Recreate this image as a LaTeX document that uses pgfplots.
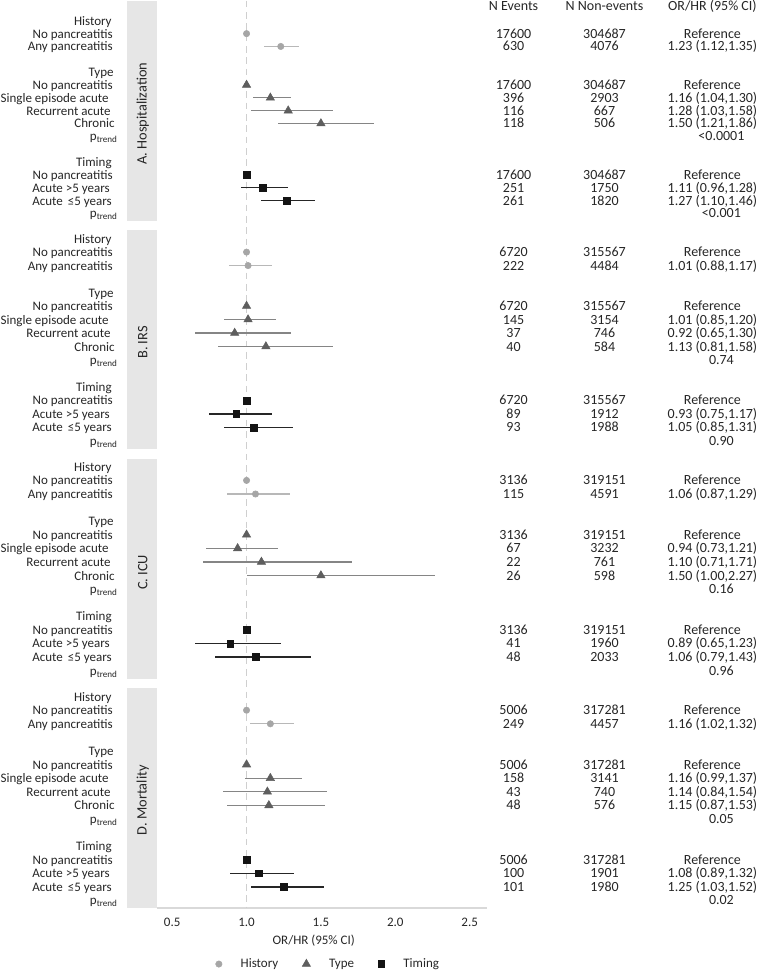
\documentclass[border=0pt]{standalone}
\usepackage{fontspec}
\setmainfont{Carlito}
\usepackage{pgfplots}
\pgfplotsset{compat=1.18}
\definecolor{txt}{HTML}{262626}
\definecolor{histc}{HTML}{A6A6A6}
\definecolor{histl}{HTML}{B8B8B8}
\definecolor{typec}{HTML}{5E5E5E}
\definecolor{typel}{HTML}{858585}
\definecolor{timec}{HTML}{141414}
\definecolor{timel}{HTML}{262626}
\definecolor{stripc}{HTML}{E6E6E6}
\definecolor{refl}{HTML}{CFCFCF}
\definecolor{axl}{HTML}{D9D9D9}
\newcommand\lab[3]{\node[anchor=base east,inner sep=0] at (#1,#2+4.5) {#3};}
\newcommand\plabels[2]{%
 \lab{112}{#1}{History}
 \lab{113}{#1+#2}{No pancreatitis}
 \lab{113}{#1+2*#2}{Any pancreatitis}
 \lab{114}{#1+4*#2}{Type}
 \lab{113}{#1+5*#2}{No pancreatitis}
 \lab{109}{#1+6*#2}{Single episode acute}
 \lab{111}{#1+7*#2}{Recurrent acute}
 \lab{115}{#1+8*#2}{Chronic}
 \lab{118}{#1+9*#2}{p\textsubscript{trend}}
 \lab{112}{#1+11*#2}{Timing}
 \lab{113}{#1+12*#2}{No pancreatitis}
 \lab{110}{#1+13*#2}{Acute >5 years}
 \lab{112}{#1+14*#2}{Acute \,≤5 years}
 \lab{118}{#1+15*#2}{p\textsubscript{trend}}
}
\newcommand\tr[4]{%
 \node[anchor=base,inner sep=0] at (514,#1+4.5) {#2};
 \node[anchor=base,inner sep=0] at (605,#1+4.5) {#3};
 \node[anchor=base,inner sep=0] at (713,#1+4.5) {#4};}
\newcommand\pv[2]{\node[anchor=base,inner sep=0] at (722,#1+4.5) {#2};}
\begin{document}
\begin{tikzpicture}[font=\fontsize{9.75pt}{11pt}\selectfont, text=txt]
\begin{scope}[x=0.75pt,y=-0.75pt]
\path[use as bounding box] (0,0) rectangle (761,980);
\fill[stripc] (127,0) rectangle (157,220);
\fill[stripc] (127,229) rectangle (157,449);
\fill[stripc] (127,459) rectangle (157,679);
\fill[stripc] (127,688) rectangle (157,908);
\begin{scope}[font=\fontsize{10.8pt}{12pt}\selectfont]
\node[rotate=90] at (143,113) {A. Hospitalization};
\node[rotate=90] at (143,342) {B. IRS};
\node[rotate=90] at (143,572) {C. ICU};
\node[rotate=90] at (143,800) {D. Mortality};
\end{scope}
\plabels{20}{12.85}
\plabels{238}{13.5}
\plabels{466.4}{13.6}
\plabels{696.4}{13.6}
\begin{scope}[font=\fontsize{10.5pt}{12pt}\selectfont]
\tr{5.5}{N Events}{N Non-events}{OR/HR (95\% CI)}
% A
\tr{32.85}{17600}{304687}{Reference}
\tr{45.7}{630}{4076}{1.23 (1.12,1.35)}
\tr{84.25}{17600}{304687}{Reference}
\tr{97.1}{396}{2903}{1.16 (1.04,1.30)}
\tr{109.95}{116}{667}{1.28 (1.03,1.58)}
\tr{122.8}{118}{506}{1.50 (1.21,1.86)}
\pv{135.65}{<0.0001}
\tr{174.2}{17600}{304687}{Reference}
\tr{187.05}{251}{1750}{1.11 (0.96,1.28)}
\tr{199.9}{261}{1820}{1.27 (1.10,1.46)}
\pv{212.75}{<0.001}
% B
\tr{251.5}{6720}{315567}{Reference}
\tr{265}{222}{4484}{1.01 (0.88,1.17)}
\tr{305.5}{6720}{315567}{Reference}
\tr{319}{145}{3154}{1.01 (0.85,1.20)}
\tr{332.5}{37}{746}{0.92 (0.65,1.30)}
\tr{346}{40}{584}{1.13 (0.81,1.58)}
\pv{359.5}{0.74}
\tr{400}{6720}{315567}{Reference}
\tr{413.5}{89}{1912}{0.93 (0.75,1.17)}
\tr{427}{93}{1988}{1.05 (0.85,1.31)}
\pv{440.5}{0.90}
% C
\tr{480}{3136}{319151}{Reference}
\tr{493.6}{115}{4591}{1.06 (0.87,1.29)}
\tr{534.4}{3136}{319151}{Reference}
\tr{548}{67}{3232}{0.94 (0.73,1.21)}
\tr{561.6}{22}{761}{1.10 (0.71,1.71)}
\tr{575.2}{26}{598}{1.50 (1.00,2.27)}
\pv{588.8}{0.16}
\tr{629.6}{3136}{319151}{Reference}
\tr{643.2}{41}{1960}{0.89 (0.65,1.23)}
\tr{656.8}{48}{2033}{1.06 (0.79,1.43)}
\pv{670.4}{0.96}
% D
\tr{710}{5006}{317281}{Reference}
\tr{723.6}{249}{4457}{1.16 (1.02,1.32)}
\tr{764.4}{5006}{317281}{Reference}
\tr{778}{158}{3141}{1.16 (0.99,1.37)}
\tr{791.6}{43}{740}{1.14 (0.84,1.54)}
\tr{805.2}{48}{576}{1.15 (0.87,1.53)}
\pv{818.8}{0.05}
\tr{859.6}{5006}{317281}{Reference}
\tr{873.2}{100}{1901}{1.08 (0.89,1.32)}
\tr{886.8}{101}{1980}{1.25 (1.03,1.52)}
\pv{900.4}{0.02}
\end{scope}
\node[anchor=base,inner sep=0] at (314,944.5) {OR/HR (95\% CI)};
\end{scope}
\begin{axis}[at={(117.75pt,-681pt)}, anchor=south west, scale only axis,
  width=247.5pt, height=681pt, xmin=0.397, xmax=2.614, ymin=-908, ymax=0,
  clip=false, axis x line*=bottom, axis y line=none,
  x axis line style={draw=axl, line width=1.5pt},
  xtick={0.5,1,1.5,2,2.5}, major tick length=0pt,
  xticklabel={\pgfmathprintnumber[fixed,fixed zerofill,precision=1,assume math mode=true]{\tick}},
  xticklabel style={font=\fontsize{9.75pt}{11pt}\selectfont, text=txt, yshift=-4pt},
  legend style={at={(0.521,-0.0617)}, anchor=center, draw=none, fill=none,
    legend columns=3, font=\fontsize{9.75pt}{11pt}\selectfont, text=txt,
    /tikz/every odd column/.append style={column sep=12pt},
    /tikz/every even column/.append style={column sep=16pt}},
  legend image code/.code={\draw[#1] plot coordinates {(0pt,0pt)};},
  error bars/error mark=none]
\addplot[refl, line width=1.2pt, dash pattern=on 5pt off 3.5pt, forget plot] coordinates {(1,0) (1,-908)};
\addplot[only marks, mark=*, mark size=2.4pt, color=histc,
  error bars/.cd, x dir=both, x explicit, error bar style={histl, line width=1pt}]
 coordinates {
 (1.00,-32.85) += (0,0) -= (0,0)
 (1.23,-45.7) += (0.12,0) -= (0.11,0)
 (1.00,-251.5) += (0,0) -= (0,0)
 (1.01,-265) += (0.16,0) -= (0.13,0)
 (1.00,-480) += (0,0) -= (0,0)
 (1.06,-493.6) += (0.23,0) -= (0.19,0)
 (1.00,-710) += (0,0) -= (0,0)
 (1.16,-723.6) += (0.16,0) -= (0.14,0)
 };
\addlegendentry{History}
\addplot[only marks, mark=triangle*, mark size=3.6pt, color=typec,
  error bars/.cd, x dir=both, x explicit, error bar style={typel, line width=1pt}]
 coordinates {
 (1.00,-84.25) += (0,0) -= (0,0)
 (1.16,-97.1) += (0.14,0) -= (0.12,0)
 (1.28,-109.95) += (0.30,0) -= (0.25,0)
 (1.50,-122.8) += (0.36,0) -= (0.29,0)
 (1.00,-305.5) += (0,0) -= (0,0)
 (1.01,-319) += (0.19,0) -= (0.16,0)
 (0.92,-332.5) += (0.38,0) -= (0.27,0)
 (1.13,-346) += (0.45,0) -= (0.32,0)
 (1.00,-534.4) += (0,0) -= (0,0)
 (0.94,-548) += (0.27,0) -= (0.21,0)
 (1.10,-561.6) += (0.61,0) -= (0.39,0)
 (1.50,-575.2) += (0.77,0) -= (0.50,0)
 (1.00,-764.4) += (0,0) -= (0,0)
 (1.16,-778) += (0.21,0) -= (0.17,0)
 (1.14,-791.6) += (0.40,0) -= (0.30,0)
 (1.15,-805.2) += (0.38,0) -= (0.28,0)
 };
\addlegendentry{Type}
\addplot[only marks, mark=square*, mark size=2.5pt, color=timec,
  error bars/.cd, x dir=both, x explicit, error bar style={timel, line width=1pt}]
 coordinates {
 (1.00,-174.2) += (0,0) -= (0,0)
 (1.11,-187.05) += (0.17,0) -= (0.15,0)
 (1.27,-199.9) += (0.19,0) -= (0.17,0)
 (1.00,-400) += (0,0) -= (0,0)
 (0.93,-413.5) += (0.24,0) -= (0.18,0)
 (1.05,-427) += (0.26,0) -= (0.20,0)
 (1.00,-629.6) += (0,0) -= (0,0)
 (0.89,-643.2) += (0.34,0) -= (0.24,0)
 (1.06,-656.8) += (0.37,0) -= (0.27,0)
 (1.00,-859.6) += (0,0) -= (0,0)
 (1.08,-873.2) += (0.24,0) -= (0.19,0)
 (1.25,-886.8) += (0.27,0) -= (0.22,0)
 };
\addlegendentry{Timing}
\end{axis}
\end{tikzpicture}
\end{document}
